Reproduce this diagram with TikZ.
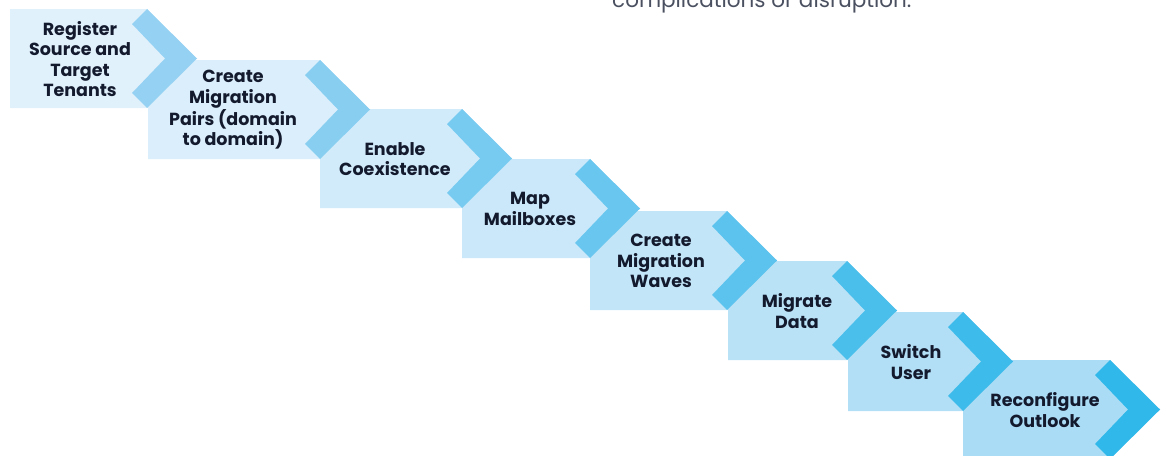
\documentclass[tikz,border=0pt]{standalone}
\usepackage{fontspec}
\setmainfont{Poppins}
\definecolor{firstfill}{HTML}{E1F1FC}
\definecolor{lastfill}{HTML}{ABDCF5}
\definecolor{firstband}{HTML}{95D1F3}
\definecolor{lastband}{HTML}{2FB8E9}
\definecolor{steptext}{HTML}{141A2E}
\definecolor{notegray}{HTML}{4A5060}

\begin{document}
\begin{tikzpicture}[x=1pt,y=-1pt,
  step label/.style={text=steptext,font=\bfseries\fontsize{17.5}{20.5}\selectfont,align=center,inner sep=0pt},
  note/.style={text=notegray,font=\fontsize{21.5}{24}\selectfont,anchor=base west,inner sep=0pt}]
  \useasboundingbox (0,0) rectangle (1166,455);

  \node[note] (note) at (612,7) {complications or disruption.};

  % last step first, so that every chevron lies over the box after it
  \foreach \l/\r/\t/\x/\p/\id/\txt in {
      963/1110/360/1045/100/s8/{Reconfigure\\Outlook},
      848/963/312/911/86/s7/{Switch\\User},
      728/847/261/797/72/s6/{Migrate\\Data},
      590/727/211/661/57/s5/{Create\\Migration\\Waves},
      462/590/159/530/43/s4/{Map\\Mailboxes},
      320/462/109/395/29/s3/{Enable\\Coexistence},
      148/320/60/233/14/s2/{Create\\Migration\\Pairs (domain\\to domain)},
      10/147/9/80/0/s1/{Register\\Source and\\Target\\Tenants}} {
    \colorlet{boxfill}{lastfill!\p!firstfill}
    \colorlet{bandfill}{lastband!\p!firstband}
    \fill[boxfill] (\l,\t) -- (\r,\t) -- (\r+50,\t+49.5) -- (\r,\t+99) -- (\l,\t+99) -- cycle;
    \fill[bandfill] (\r,\t) -- (\r+50,\t+49.5) -- (\r,\t+99) -- (\r-15,\t+84)
      -- (\r+18,\t+49.5) -- (\r-15,\t+15) -- cycle;
    \node[step label] (\id) at (\x,\t+50) {\txt};
  }
\end{tikzpicture}
\end{document}
